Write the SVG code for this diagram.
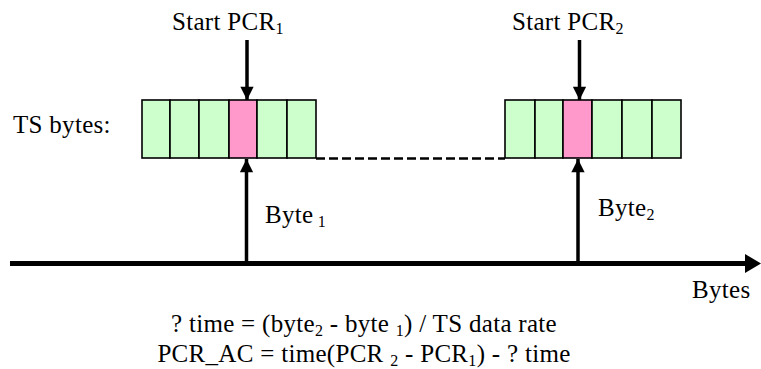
<svg xmlns="http://www.w3.org/2000/svg" width="761" height="369" viewBox="0 0 761 369">
<style>
.g{fill:#ccffcc;stroke:#000;stroke-width:1.6}
.p{fill:#ff99cc;stroke:#000;stroke-width:1.6}
.shaft{stroke:#000;stroke-width:3.5;fill:none}
</style>
<defs>
<marker id="ah" viewBox="0 0 10 10" refX="10" refY="5" markerWidth="4.4" markerHeight="3.8" markerUnits="strokeWidth" orient="auto">
<path d="M0,0L10,5L0,10z" fill="#000"/>
</marker>
</defs>
<g id="packet1">
<rect class="g" x="142" y="100" width="28" height="58"/>
<rect class="g" x="170" y="100" width="29" height="58"/>
<rect class="g" x="199" y="100" width="30" height="58"/>
<rect class="p" x="229" y="100" width="28" height="58"/>
<rect class="g" x="257" y="100" width="30" height="58"/>
<rect class="g" x="287" y="100" width="29" height="58"/>
</g>
<g id="packet2">
<rect class="g" x="505" y="100" width="30" height="58"/>
<rect class="g" x="535" y="100" width="28" height="58"/>
<rect class="p" x="563" y="100" width="29" height="58"/>
<rect class="g" x="592" y="100" width="30" height="58"/>
<rect class="g" x="622" y="100" width="30" height="58"/>
<rect class="g" x="652" y="100" width="29" height="58"/>
</g>
<g id="connectors">
<line x1="316" y1="158.5" x2="505" y2="158.5" stroke="#000" stroke-width="2.6" stroke-dasharray="9 4"/>
<line class="shaft" x1="247" y1="40" x2="247" y2="100" marker-end="url(#ah)"/>
<line class="shaft" x1="579.5" y1="40" x2="579.5" y2="100" marker-end="url(#ah)"/>
<line class="shaft" x1="246.5" y1="263" x2="246.5" y2="159" marker-end="url(#ah)"/>
<line class="shaft" x1="578" y1="263" x2="578" y2="159" marker-end="url(#ah)"/>
<line x1="10" y1="263.5" x2="747" y2="263.5" stroke="#000" stroke-width="5"/>
<polygon points="745,254 761,263.5 745,273" fill="#000"/>
</g>
<g font-family="Liberation Serif, serif" font-size="25" letter-spacing="0.3" fill="#000">
<g id="label-ts"><text x="13" y="133">TS bytes:</text></g>
<g id="label-start1"><text x="172" y="30">Start PCR<tspan font-size="16" dy="4">1</tspan></text></g>
<g id="label-start2"><text x="512" y="30">Start PCR<tspan font-size="16" dy="4">2</tspan></text></g>
<g id="label-byte1"><text x="265" y="223">Byte<tspan font-size="16" dy="4"> 1</tspan></text></g>
<g id="label-byte2"><text x="598" y="216">Byte<tspan font-size="16" dy="4">2</tspan></text></g>
<g id="label-bytes"><text x="692" y="298">Bytes</text></g>
<g id="formula">
<text x="364" y="332" text-anchor="middle">? time = (byte<tspan font-size="16" dy="4">2</tspan><tspan dy="-4"> - byte </tspan><tspan font-size="16" dy="4">1</tspan><tspan dy="-4">) / TS data rate</tspan></text>
<text x="364" y="362" text-anchor="middle">PCR_AC = time(PCR <tspan font-size="16" dy="4">2</tspan><tspan dy="-4"> - PCR</tspan><tspan font-size="16" dy="4">1</tspan><tspan dy="-4">) - ? time</tspan></text>
</g>
</g>
</svg>
